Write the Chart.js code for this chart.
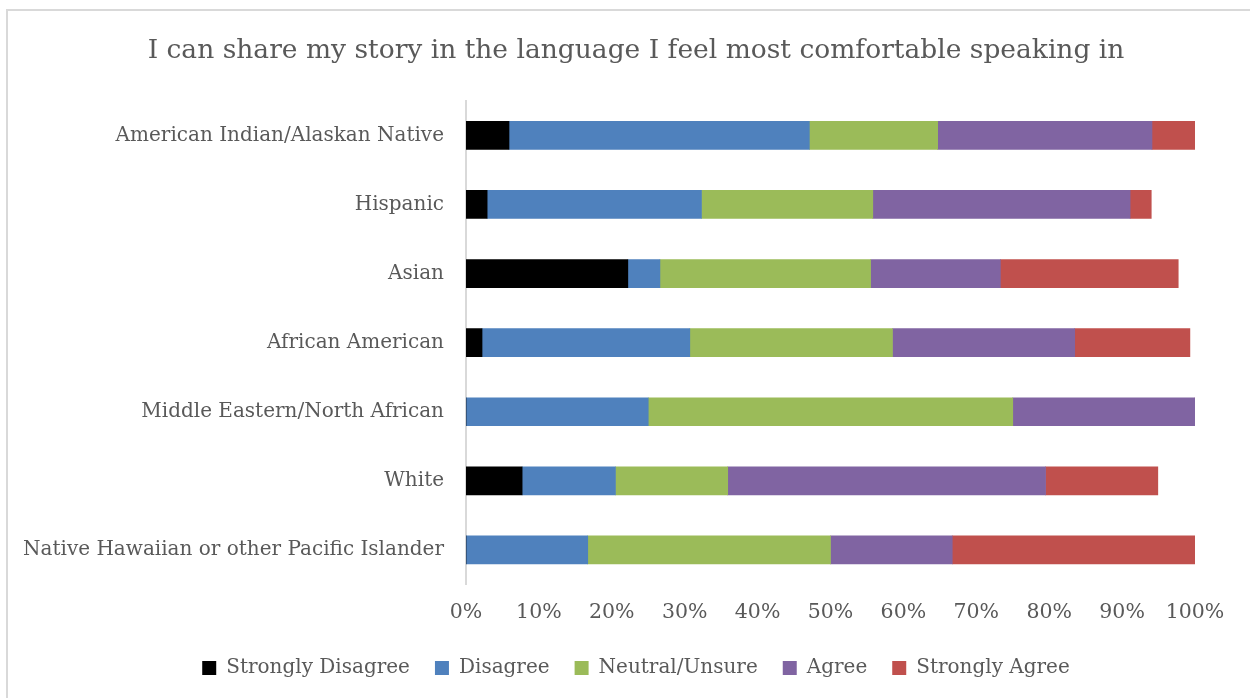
<!doctype html>
<html>
  <head>
    <meta charset="UTF-8">
    <title>Language comfort</title>
    <script src="https://cdn.jsdelivr.net/npm/chart.js@4/dist/chart.umd.min.js"></script>
    <style>
      html, body {
        margin: 0;
        background: #fff;
        overflow: hidden;
      }
      #frame {
        position: absolute;
        left: 6px;
        top: 9px;
        width: 1400px;
        height: 800px;
        border-left: 2px solid #d9d9d9;
        border-top: 2px solid #d9d9d9;
      }
      #wrap {
        position: absolute;
        left: 0;
        top: 0;
        width: 1250px;
        height: 698px;
      }
    </style>
  </head>
  <body>
    <div id="frame"></div>
    <div id="wrap"><canvas id="chart"></canvas></div>
    <script>
      var groups = ['American Indian/Alaskan Native', 'Hispanic', 'Asian', 'African American',
        'Middle Eastern/North African', 'White', 'Native Hawaiian or other Pacific Islander']
      var stronglyDisagree = [5.9, 2.9, 22.2, 2.2, 0, 7.7, 0]
      var disagree = [41.2, 29.4, 4.4, 28.5, 25.0, 12.8, 16.7]
      var neutral = [17.6, 23.5, 28.9, 27.8, 50.0, 15.4, 33.3]
      var agree = [29.4, 35.3, 17.8, 25.0, 25.0, 43.6, 16.7]
      var stronglyAgree = [5.9, 2.9, 24.4, 15.8, 0, 15.4, 33.3]
      var xTicks = [0, 10, 20, 30, 40, 50, 60, 70, 80, 90, 100]

      var grey = '#595959'
      var face = "'DejaVu Serif', serif"

      function series(label, values, color) {
        return {
          label: label,
          data: values,
          backgroundColor: color,
          borderWidth: 0,
          barThickness: 28
        }
      }

      // long category names run past the y scale's box into the left padding,
      // so widen its label clip area once the layout is done
      var unclipLabels = {
        id: 'unclipLabels',
        afterLayout: function(chart) {
          chart.scales.y.left = 0
        }
      }

      var ctx = document.getElementById('chart').getContext('2d')
      var myChart = new Chart(ctx, {
        type: 'bar',
        data: {
          labels: groups,
          datasets: [
            series('Strongly Disagree', stronglyDisagree, '#000000'),
            series('Disagree', disagree, '#4f81bd'),
            series('Neutral/Unsure', neutral, '#9bbb59'),
            series('Agree', agree, '#8064a2'),
            series('Strongly Agree', stronglyAgree, '#c0504d')
          ]
        },
        plugins: [unclipLabels],
        options: {
          indexAxis: 'y',
          responsive: true,
          maintainAspectRatio: false,
          animation: false,
          layout: {
            padding: { left: 77, right: 55, top: 0, bottom: 10 }
          },
          scales: {
            x: {
              stacked: true,
              min: 0,
              max: 100,
              afterBuildTicks: function(scale) {
                scale.ticks = xTicks.map(function(v) { return { value: v } })
              },
              afterFit: function(scale) { scale.height = 48.5 },
              grid: { display: false, drawTicks: false },
              border: { display: false },
              ticks: {
                color: grey,
                font: { family: face, size: 20.5 },
                padding: 16,
                callback: function(v) { return v + '%' }
              }
            },
            y: {
              stacked: true,
              afterFit: function(scale) { scale.width = 389 },
              grid: { display: false, drawTicks: false },
              border: { display: true, color: '#d9d9d9', width: 2 },
              ticks: {
                color: grey,
                font: { family: face, size: 20 },
                padding: 22
              }
            }
          },
          plugins: {
            title: {
              display: true,
              text: 'I can share my story in the language I feel most comfortable speaking in',
              color: grey,
              font: { family: face, size: 26.5, weight: 'normal' },
              padding: { top: 35, bottom: 34 }
            },
            legend: {
              position: 'bottom',
              labels: {
                color: grey,
                font: { family: face, size: 20 },
                boxWidth: 14,
                boxHeight: 14,
                padding: 25
              }
            },
            tooltip: { enabled: false }
          }
        }
      })
    </script>
  </body>
</html>
